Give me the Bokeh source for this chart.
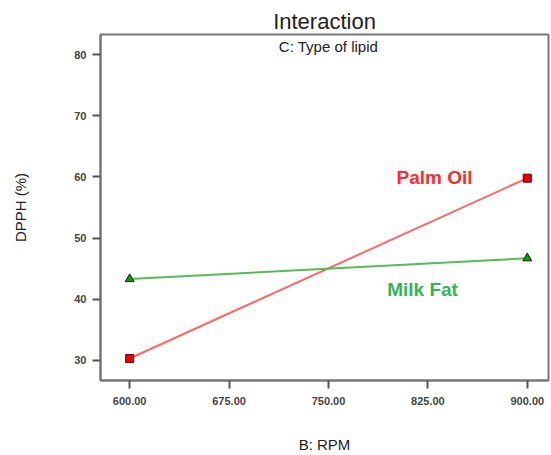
from bokeh.plotting import figure
from bokeh.models import Range1d, FixedTicker, Label
from bokeh.embed import file_html
from bokeh.resources import INLINE

rpm = [600, 900]
palm_oil = [30.3, 59.8]
milk_fat = [43.3, 46.7]
x_ticks = [600, 675, 750, 825, 900]
x_tick_labels = ["600.00", "675.00", "750.00", "825.00", "900.00"]
y_ticks = [30, 40, 50, 60, 70, 80]
y_tick_labels = ["30", "40", "50", "60", "70", "80"]

p = figure(width=551, height=455, output_backend="svg", toolbar_location=None,
           x_range=Range1d(578, 916), y_range=Range1d(26.7, 83.3),
           min_border_left=100, min_border_right=3, min_border_top=34, min_border_bottom=75)
p.title.text = "Interaction"
p.title.align = "center"
p.title.text_font = "Liberation Sans"
p.title.text_font_size = "22px"
p.title.text_font_style = "normal"
p.title.text_color = "#222222"
p.title.offset = 0
p.title.standoff = 2

p.grid.visible = False
p.outline_line_color = "#777777"
p.outline_line_width = 2

for ax in (p.xaxis[0], p.yaxis[0]):
    ax.axis_line_color = "#777777"
    ax.axis_line_width = 2
    ax.major_tick_line_color = "#555555"
    ax.major_tick_line_width = 2
    ax.major_tick_in = 0
    ax.major_tick_out = 8
    ax.minor_tick_line_color = None
    ax.major_label_text_font = "Liberation Sans"
    ax.major_label_text_font_size = "11px"
    ax.major_label_text_font_style = "bold"
    ax.major_label_text_color = "#444444"
    ax.axis_label_text_font = "Liberation Sans"
    ax.axis_label_text_font_size = "15px"
    ax.axis_label_text_font_style = "normal"
    ax.axis_label_text_color = "#222222"

p.xaxis.ticker = FixedTicker(ticks=x_ticks)
p.xaxis.major_label_overrides = {t: l for t, l in zip(x_ticks, x_tick_labels)}
p.yaxis.ticker = FixedTicker(ticks=y_ticks)
p.yaxis.major_label_overrides = {t: l for t, l in zip(y_ticks, y_tick_labels)}
p.xaxis.axis_label = "B: RPM"
p.yaxis.axis_label = "DPPH (%)"
p.xaxis.major_label_standoff = 8
p.yaxis.major_label_standoff = 6
p.xaxis.axis_label_standoff = 28
p.yaxis.axis_label_standoff = 42

p.line(rpm, palm_oil, line_color="#ff6666", line_width=2)
p.line(rpm, milk_fat, line_color="#55bb55", line_width=2)
p.scatter(rpm, palm_oil, marker="square", size=8, fill_color="#ee0000", line_color="#550000")
p.scatter(rpm, milk_fat, marker="triangle", size=9, fill_color="#119911", line_color="#003300")

p.add_layout(Label(x=750, y=81.3, text="C: Type of lipid", text_align="center",
                   text_baseline="middle", text_font_size="15px", text_font="Liberation Sans",
                   text_color="#222222"))
p.add_layout(Label(x=830, y=59.9, text="Palm Oil", text_align="center",
                   text_baseline="middle", text_font_size="19px", text_font="Liberation Sans",
                   text_font_style="bold", text_color="#ff2a2a"))
p.add_layout(Label(x=821, y=41.6, text="Milk Fat", text_align="center",
                   text_baseline="middle", text_font_size="19px", text_font="Liberation Sans",
                   text_font_style="bold", text_color="#33b35a"))

open("out.html", "w").write(file_html(p, INLINE))
